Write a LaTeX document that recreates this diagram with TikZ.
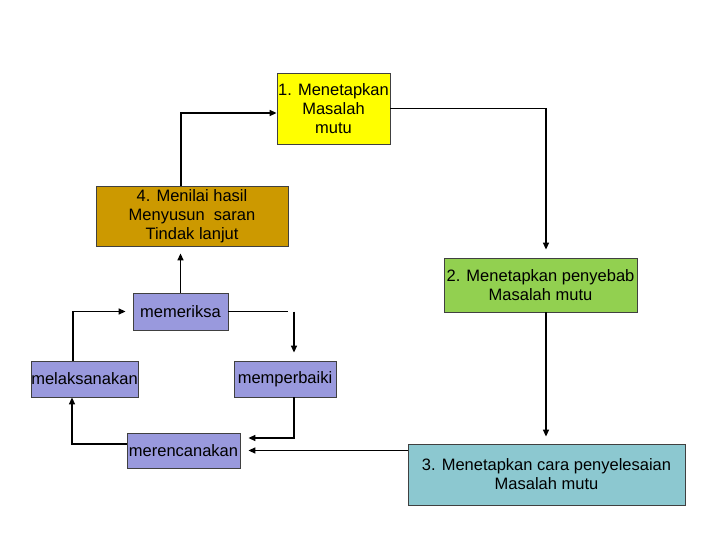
\documentclass[tikz,border=0pt]{standalone}
\usepackage{fontspec}
\setmainfont{Liberation Sans}
\usetikzlibrary{arrows.meta}
\definecolor{cyel}{HTML}{FFFF00}
\definecolor{cgold}{HTML}{CC9900}
\definecolor{cgreen}{HTML}{92D050}
\definecolor{cteal}{HTML}{8CC8D0}
\definecolor{clav}{HTML}{9999DD}
\definecolor{cedge}{HTML}{404040}
\tikzset{
  box/.style={draw=cedge, line width=0.8pt, rectangle, align=center, inner sep=0pt,
    font=\fontsize{16.5}{19}\selectfont},
  arr/.style={line width=1.4pt, -{Triangle[length=7pt,width=6pt]}},
  ln/.style={line width=1pt}
}
\begin{document}
\begin{tikzpicture}[x=1pt,y=-1pt]
\useasboundingbox (0,0) rectangle (720,540);
\node[box, fill=cyel, minimum width=113pt, minimum height=71pt] (b1) at (333.5,108.5) {1. Menetapkan\\Masalah\\mutu};
\node[box, fill=cgreen, minimum width=193pt, minimum height=54pt] (b2) at (540.5,285) {2. Menetapkan penyebab\\Masalah mutu};
\node[box, fill=cteal, minimum width=277pt, minimum height=61pt] (b3) at (546.5,474.5) {3. Menetapkan cara penyelesaian\\Masalah mutu};
\node[box, fill=cgold, minimum width=192pt, minimum height=60pt] (b4) at (192,216) {4. Menilai hasil\\Menyusun\ \ saran\\Tindak lanjut};
\node[box, fill=clav, minimum width=95pt, minimum height=37pt] (mem) at (180.5,311.5) {memeriksa};
\node[box, fill=clav, minimum width=107pt, minimum height=36pt] (mel) at (84.5,379) {melaksanakan};
\node[box, fill=clav, minimum width=102pt, minimum height=36pt] (mper) at (285,379) {memperbaiki};
\node[box, fill=clav, minimum width=113pt, minimum height=35pt] (mer) at (183.5,450.5) {merencanakan};
% big cycle
\draw[arr] ([xshift=-11pt]b4.north) |- ([yshift=-4.5pt]b1.west);
\draw[arr, shorten >=8pt] (b1.east) -| ([xshift=5.5pt]b2.north);
\coordinate (p2) at ([xshift=5.5pt]b2.south);
\draw[arr, shorten >=7pt] (p2) -- (p2 |- b3.north);
\draw[arr, shorten >=8pt] ([yshift=24pt]b3.west) -- (mer.east);
% small cycle
\draw[arr, shorten >=7pt] (mem.north) -- (mem.north |- b4.south);
\draw[arr, shorten >=7pt] ([xshift=-11.5pt]mel.north) |- (mem.west);
\coordinate (k1) at (288,311.5);
\coordinate (k2) at (294,311.5);
\draw[ln] (mem.east) -- (k1);
\draw[arr, shorten >=8pt] (k2) -- (k2 |- mper.north);
\draw[arr, shorten >=8pt] ([xshift=9pt]mper.south) |- ([yshift=12.5pt]mer.east);
\draw[arr] ([yshift=6.5pt]mer.west) -| ([xshift=-12.5pt]mel.south);
\end{tikzpicture}
\end{document}
